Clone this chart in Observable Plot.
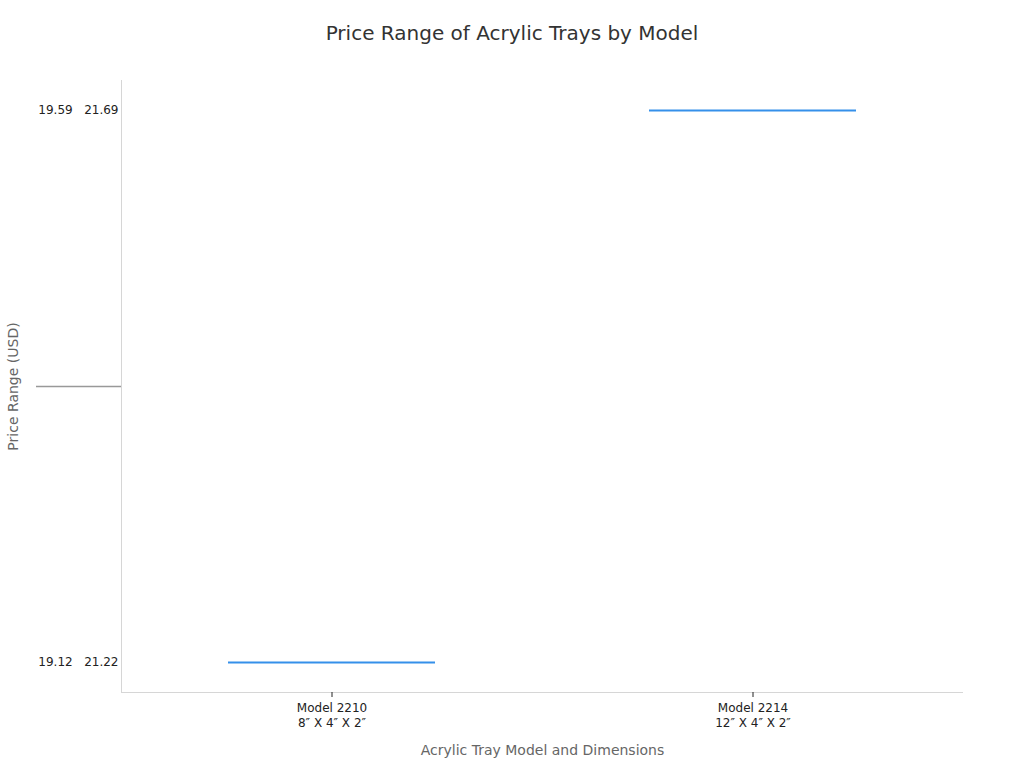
<!DOCTYPE html>
<html>
<head>
<meta charset="utf-8">
<script src="https://cdn.jsdelivr.net/npm/d3@7"></script>
<script src="https://cdn.jsdelivr.net/npm/@observablehq/plot@0.6"></script>
<style>
  body { margin: 0; background: #fff; font-family: "DejaVu Sans", sans-serif; }
  #title { height: 60px; line-height: 66px; text-align: center; font-size: 20px; color: #333; }
</style>
</head>
<body>
<div id="title">Price Range of Acrylic Trays by Model</div>
<div id="chart"></div>
<script>
const models = ["Model 2210\n8″ X 4″ X 2″", "Model 2214\n12″ X 4″ X 2″"];
const priceLabels = ["19.12   21.22", "19.59   21.69"];
const yDomain = ["19.59   21.69", " ", "19.12   21.22"];
const data = models.map((m, i) => ({ model: m, range: priceLabels[i] }));

const axisLines = (index, scales, values, dims) => {
  const g = d3.create("svg:g");
  const { width, height, marginLeft, marginRight, marginTop, marginBottom } = dims;
  g.append("line").attr("x1", marginLeft + 0.5).attr("x2", marginLeft + 0.5)
    .attr("y1", marginTop).attr("y2", height - marginBottom).attr("stroke", "#d6d6d6");
  g.append("line").attr("x1", marginLeft).attr("x2", width - marginRight)
    .attr("y1", height - marginBottom + 0.5).attr("y2", height - marginBottom + 0.5).attr("stroke", "#d6d6d6");
  return g.node();
};

const chart = Plot.plot({
  width: 1024,
  height: 708,
  marginTop: 20,
  marginBottom: 76,
  marginLeft: 121,
  marginRight: 61,
  style: { fontFamily: "DejaVu Sans, sans-serif", fontSize: "12px", color: "#222", background: "#fff" },
  x: { domain: models, padding: 0 },
  y: { type: "point", domain: yDomain, padding: 0.108 },
  marks: [
    axisLines,
    Plot.axisY({ ticks: [yDomain[0], yDomain[2]], tickSize: 0, tickPadding: 3, fontSize: 12,
      label: "Price Range (USD)", labelAnchor: "center", labelOffset: 113 }),
    Plot.axisY({ ticks: [yDomain[1]], tickSize: 85, stroke: "#999", strokeWidth: 1.5, tickFormat: () => "", label: null }),
    Plot.axisX({ tickSize: 5, tickPadding: 4, lineHeight: 1.25, fontSize: 12,
      label: "Acrylic Tray Model and Dimensions", labelAnchor: "center", labelOffset: 62 }),
    Plot.tickY(data, { x: "model", y: "range", stroke: "#3590ea", strokeWidth: 2, insetLeft: 107, insetRight: 107 })
  ]
});
document.getElementById("chart").appendChild(chart);
d3.select(chart).selectAll("[aria-label='y-axis label'] text, [aria-label='x-axis label'] text")
  .attr("fill", "#666").style("font-size", "14px");
</script>
</body>
</html>
